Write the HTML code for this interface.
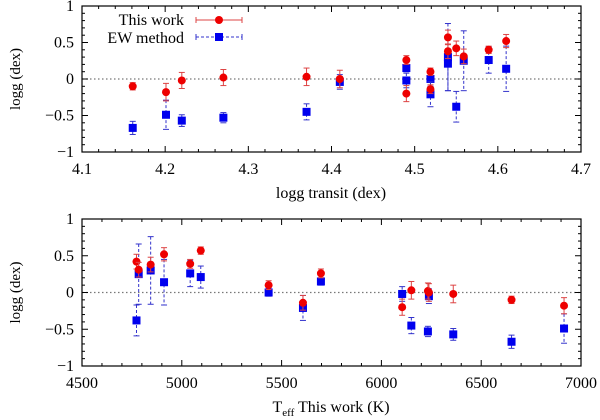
<!DOCTYPE html>
<html><head><meta charset="utf-8"><style>
html,body{margin:0;padding:0;background:#fff;}
svg{display:block;font-family:"Liberation Serif",serif;}
</style></head><body>
<svg id="chart" width="600" height="420" viewBox="0 0 600 420" xmlns="http://www.w3.org/2000/svg"></svg>
<script>
// Top panel data
const topX = [4.161,4.201,4.220,4.270,4.370,4.410,4.490,4.490,4.519,4.519,4.540,4.540,4.550,4.559,4.589,4.610];
const topRed = [-0.10,-0.18,-0.02,0.02,0.03,0.00,0.26,-0.20,0.10,-0.14,0.57,0.38,0.42,0.31,0.40,0.52];
const topRedErr = [0.05,0.12,0.11,0.11,0.12,0.12,0.06,0.11,0.05,0.06,0.10,0.10,0.10,0.10,0.05,0.09];
const topBlue = [-0.67,-0.49,-0.57,-0.53,-0.45,-0.04,0.15,-0.02,0.00,-0.21,0.30,0.21,-0.38,0.25,0.26,0.14];
const topBlueErr = [0.09,0.20,0.08,0.07,0.11,0.10,0.05,0.10,0.10,0.17,0.46,0.37,0.21,0.41,0.18,0.31];
// Bottom panel data
const botX = [4773,4784,4844,4911,5042,5095,5435,5607,5697,6104,6150,6233,6238,6360,6652,6915];
const botRed = [0.42,0.31,0.38,0.52,0.39,0.57,0.10,-0.14,0.26,-0.20,0.03,0.02,0.00,-0.02,-0.10,-0.18];
const botRedErr = [0.10,0.10,0.10,0.09,0.06,0.05,0.06,0.10,0.06,0.11,0.12,0.11,0.12,0.12,0.05,0.11];
const botBlue = [-0.38,0.25,0.30,0.14,0.26,0.21,0.00,-0.21,0.15,-0.02,-0.45,-0.53,-0.05,-0.57,-0.67,-0.49];
const botBlueErr = [0.21,0.41,0.46,0.31,0.18,0.15,0.05,0.17,0.05,0.10,0.11,0.07,0.10,0.08,0.09,0.20];
const topTicks = ["4.1","4.2","4.3","4.4","4.5","4.6","4.7"];
const botTicks = ["4500","5000","5500","6000","6500","7000"];
const yTicks = ["1","0.5","0","\u22120.5","\u22121"];
const yTickVals = [1,0.5,0,-0.5,-1];

const NS="http://www.w3.org/2000/svg";
const svg=document.getElementById('chart');
function mk(tag,attrs,parent){const e=document.createElementNS(NS,tag);for(const k in attrs)e.setAttribute(k,attrs[k]);(parent||svg).appendChild(e);return e;}
const L=82,R=581;

function panel(name,top,bottom,xmin,xmax,xTickLabels,xMinorStep,xs,red,redErr,blue,blueErr){
  const g=mk('g',{});
  
  
  const sx=v=>L+(v-xmin)/(xmax-xmin)*(R-L);
  const sy=v=>top+(1-v)/2*(bottom-top);
  const z=mk('line',{x1:L,x2:R,y1:sy(0),y2:sy(0),stroke:'#777','stroke-width':1.2,'stroke-dasharray':'1.5,2.5'},g);
  
  
  const ax=mk('g',{},g);
  
  
  const nMinor=Math.round((xmax-xmin)/xMinorStep);
  for(let i=0;i<=nMinor;i++){
    const v=xmin+i*xMinorStep, x=sx(v);
    const len=(i%5===0)?6:3;
    mk('line',{x1:x,x2:x,y1:bottom,y2:bottom-len,stroke:'#000','stroke-width':1},ax);
    mk('line',{x1:x,x2:x,y1:top,y2:top+len,stroke:'#000','stroke-width':1},ax);
  }
  xTickLabels.forEach((t,i)=>{
    const v=xmin+i*(xmax-xmin)/(xTickLabels.length-1);
    const tx=mk('text',{x:sx(v),y:bottom+22,'text-anchor':'middle','font-size':16},ax);
    tx.textContent=t;
    
    
  });
  const ay=mk('g',{},g);
  
  
  for(let i=0;i<=20;i++){
    const v=-1+i*0.1,y=sy(v),len=(i%5===0)?6:3;
    mk('line',{x1:L,x2:L+len,y1:y,y2:y,stroke:'#000','stroke-width':1},ay);
    mk('line',{x1:R,x2:R-len,y1:y,y2:y,stroke:'#000','stroke-width':1},ay);
  }
  yTicks.forEach((t,i)=>{
    const tx=mk('text',{x:L-8,y:sy(yTickVals[i])+5,'text-anchor':'end','font-size':16},ay);
    tx.textContent=t;
    
    
  });
  const fr=mk('rect',{x:L,y:top,width:R-L,height:bottom-top,fill:'none',stroke:'#000','stroke-width':1.2},g);
  
  
  const bg=mk('g',{},g);
  
  
  xs.forEach((xv,i)=>{
    const x=sx(xv);
    mk('line',{x1:x,x2:x,y1:sy(blue[i]+blueErr[i]),y2:sy(blue[i]-blueErr[i]),stroke:'#3333cc','stroke-width':1,'stroke-dasharray':'3,2'},bg);
    mk('line',{x1:x-3,x2:x+3,y1:sy(blue[i]+blueErr[i]),y2:sy(blue[i]+blueErr[i]),stroke:'#3333cc','stroke-width':1},bg);
    mk('line',{x1:x-3,x2:x+3,y1:sy(blue[i]-blueErr[i]),y2:sy(blue[i]-blueErr[i]),stroke:'#3333cc','stroke-width':1},bg);
    const m=mk('rect',{x:x-4,y:sy(blue[i])-4,width:8,height:8,fill:'#0000ee'},bg);
    
    
  });
  const rg=mk('g',{},g);
  
  
  xs.forEach((xv,i)=>{
    const x=sx(xv);
    mk('line',{x1:x,x2:x,y1:sy(red[i]+redErr[i]),y2:sy(red[i]-redErr[i]),stroke:'#dd4444','stroke-width':1},rg);
    mk('line',{x1:x-3,x2:x+3,y1:sy(red[i]+redErr[i]),y2:sy(red[i]+redErr[i]),stroke:'#dd4444','stroke-width':1},rg);
    mk('line',{x1:x-3,x2:x+3,y1:sy(red[i]-redErr[i]),y2:sy(red[i]-redErr[i]),stroke:'#dd4444','stroke-width':1},rg);
    const m=mk('circle',{cx:x,cy:sy(red[i]),r:4,fill:'#ee0000'},rg);
    
    
  });
  const yt=mk('text',{x:0,y:0,'text-anchor':'middle','font-size':15,transform:`translate(20,${(top+bottom)/2}) rotate(-90)`},g);
  yt.textContent='logg (dex)';
  
  
}
panel('top-panel',6,152,4.1,4.7,topTicks,0.02,topX,topRed,topRedErr,topBlue,topBlueErr);
panel('bottom-panel',219,366,4500,7000,botTicks,100,botX,botRed,botRedErr,botBlue,botBlueErr);

const t1=mk('text',{x:331,y:198,'text-anchor':'middle','font-size':16});
t1.textContent='logg transit (dex)';


const t2=mk('text',{x:331,y:412,'text-anchor':'middle','font-size':16});


t2.innerHTML='T<tspan font-size="11" dy="4">eff</tspan><tspan dy="-4"> This work (K)</tspan>';
const lg=mk('g',{});


const a=mk('text',{x:184,y:25,'text-anchor':'end','font-size':16},lg);a.textContent='This work';


mk('line',{x1:196,x2:242,y1:20,y2:20,stroke:'#dd4444','stroke-width':1},lg);
mk('line',{x1:196,x2:196,y1:17,y2:23,stroke:'#dd4444'},lg);
mk('line',{x1:242,x2:242,y1:17,y2:23,stroke:'#dd4444'},lg);
mk('circle',{cx:219,cy:20,r:4,fill:'#ee0000'},lg);
const b=mk('text',{x:184,y:43,'text-anchor':'end','font-size':16},lg);b.textContent='EW method';


mk('line',{x1:196,x2:242,y1:37,y2:37,stroke:'#3333cc','stroke-width':1,'stroke-dasharray':'3,2'},lg);
mk('line',{x1:196,x2:196,y1:34,y2:40,stroke:'#3333cc'},lg);
mk('line',{x1:242,x2:242,y1:34,y2:40,stroke:'#3333cc'},lg);
mk('rect',{x:215,y:33,width:8,height:8,fill:'#0000ee'},lg);
</script>
</body></html>
